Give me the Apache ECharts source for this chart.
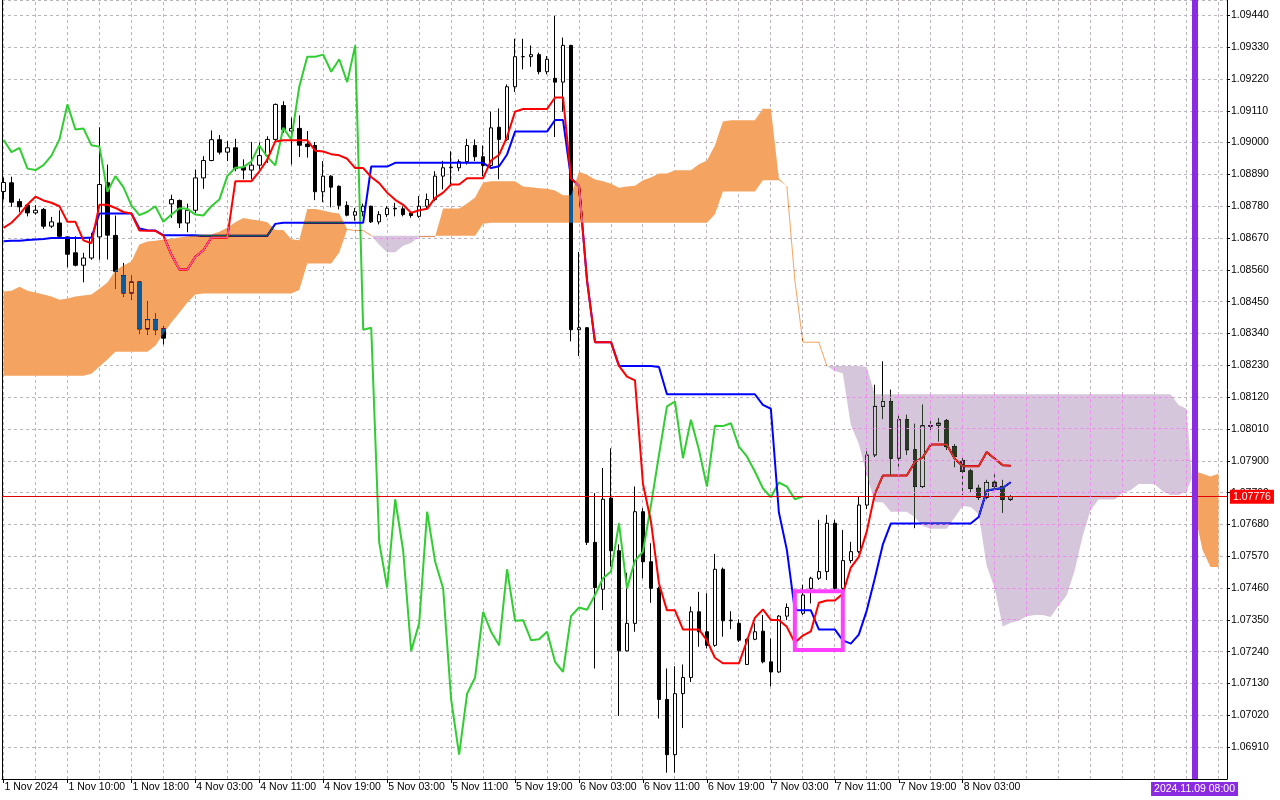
<!DOCTYPE html>
<html lang="en">
<head>
<meta charset="UTF-8">
<title>EURUSD H1 Ichimoku</title>
<style>
  html, body { margin: 0; padding: 0; background: #ffffff; }
  #chart { width: 1280px; height: 800px; }
</style>
</head>
<body>
<div id="chart"></div>
<script src="https://cdn.jsdelivr.net/npm/echarts@6/dist/echarts.min.js"></script>
<script>
// time axis labels, one every 8 hourly bars starting at bar 0
var timeLabels = ['1 Nov 2024', '1 Nov 10:00', '1 Nov 18:00', '4 Nov 03:00', '4 Nov 11:00', '4 Nov 19:00',
    '5 Nov 03:00', '5 Nov 11:00', '5 Nov 19:00', '6 Nov 03:00', '6 Nov 11:00', '6 Nov 19:00',
    '7 Nov 03:00', '7 Nov 11:00', '7 Nov 19:00', '8 Nov 03:00'];

var opens = [1.08831,1.08861,1.08796,1.08784,1.08757,1.08769,1.08711,1.08722,1.08674,1.08619,
    1.08576,1.08601,1.08674,1.08861,1.08679,1.08540,1.08480,1.08518,1.08356,1.08388,
    1.08356,1.08788,1.08800,1.08722,1.08766,1.08878,1.08938,1.09010,1.08967,1.08982,
    1.08915,1.08905,1.08922,1.08955,1.09011,1.09128,1.09040,1.09049,1.08995,1.08990,
    1.08830,1.08884,1.08849,1.08783,1.08749,1.08761,1.08780,1.08726,1.08751,1.08773,
    1.08771,1.08757,1.08745,1.08780,1.08803,1.08884,1.08913,1.08913,1.08934,1.08990,
    1.08951,1.08921,1.09053,1.09011,1.09193,1.09297,1.09297,1.09304,1.09245,1.09222,
    1.09209,1.09336,1.08353,1.08360,1.07618,1.07456,1.07771,1.07589,1.07243,1.07338,
    1.07724,1.07551,1.07459,1.07075,1.06884,1.07095,1.07151,1.07378,1.07309,1.07262,
    1.07525,1.07347,1.07338,1.07196,1.07283,1.07311,1.07205,1.07170,1.07363,1.07393,
    1.07373,1.07459,1.07494,1.07517,1.07684,1.07459,1.07555,1.07586,1.07747,1.07920,
    1.08088,1.08105,1.07909,1.08042,1.07938,1.07811,1.08021,1.08023,1.08038,1.07949,
    1.07901,1.07865,1.07805,1.07774,1.07826,1.07811,1.07767];

var highs = [1.08879,1.08882,1.08806,1.08786,1.08784,1.08774,1.08743,1.08766,1.08676,1.08676,
    1.08619,1.08688,1.09053,1.08924,1.08748,1.08584,1.08540,1.08520,1.08451,1.08411,
    1.08365,1.08820,1.08803,1.08789,1.08907,1.08953,1.09042,1.09026,1.09005,1.09013,
    1.08942,1.09002,1.09000,1.09022,1.09135,1.09143,1.09086,1.09094,1.09040,1.09002,
    1.08936,1.08887,1.08852,1.08797,1.08774,1.08789,1.08782,1.08763,1.08780,1.08792,
    1.08780,1.08763,1.08815,1.08824,1.08901,1.08937,1.08970,1.08942,1.09013,1.09011,
    1.08990,1.09107,1.09118,1.09201,1.09359,1.09359,1.09336,1.09311,1.09299,1.09438,
    1.09363,1.09338,1.08622,1.08362,1.07788,1.07875,1.07943,1.07611,1.07513,1.07811,
    1.07736,1.07615,1.07465,1.07182,1.07190,1.07196,1.07396,1.07447,1.07442,1.07578,
    1.07531,1.07380,1.07352,1.07286,1.07338,1.07367,1.07286,1.07367,1.07407,1.07420,
    1.07471,1.07499,1.07696,1.07713,1.07696,1.07661,1.07620,1.07776,1.07944,1.08163,
    1.08244,1.08146,1.08065,1.08059,1.08028,1.08094,1.08036,1.08048,1.08044,1.07958,
    1.07915,1.07872,1.07817,1.07834,1.07859,1.07834,1.07782];

var lows = [1.08803,1.08778,1.08759,1.08745,1.08751,1.08702,1.08705,1.08674,1.08569,1.08572,
    1.08517,1.08595,1.08595,1.08596,1.08494,1.08467,1.08457,1.08338,1.08336,1.08336,
    1.08302,1.08740,1.08705,1.08690,1.08757,1.08840,1.08936,1.08959,1.08936,1.08901,
    1.08873,1.08873,1.08907,1.08930,1.09005,1.09034,1.08924,1.08950,1.08948,1.08801,
    1.08794,1.08776,1.08769,1.08745,1.08730,1.08745,1.08722,1.08717,1.08743,1.08745,
    1.08745,1.08740,1.08740,1.08769,1.08797,1.08838,1.08855,1.08901,1.08924,1.08936,
    1.08884,1.08913,1.08873,1.09005,1.09175,1.09253,1.09262,1.09236,1.09236,1.09019,
    1.09107,1.08313,1.08262,1.07609,1.07182,1.07384,1.07534,1.07018,1.07241,1.07309,
    1.07494,1.07409,1.07009,1.06822,1.06822,1.06976,1.07135,1.07257,1.07251,1.07257,
    1.07292,1.07318,1.07274,1.07194,1.07280,1.07200,1.07121,1.07167,1.07349,1.07360,
    1.07367,1.07407,1.07488,1.07488,1.07453,1.07453,1.07546,1.07580,1.07733,1.07914,
    1.08044,1.07851,1.07869,1.07920,1.07667,1.07806,1.08007,1.07967,1.07938,1.07878,
    1.07782,1.07790,1.07765,1.07767,1.07802,1.07721,1.07762];

var closes = [1.08862,1.08794,1.08778,1.08757,1.08766,1.08711,1.08726,1.08676,1.08614,1.08576,
    1.08601,1.08671,1.08855,1.08680,1.08555,1.08480,1.08518,1.08356,1.08388,1.08353,
    1.08324,1.08803,1.08722,1.08766,1.08878,1.08938,1.09010,1.08967,1.08982,1.08910,
    1.08905,1.08922,1.08955,1.09011,1.09132,1.09045,1.09049,1.08991,1.08986,1.08830,
    1.08884,1.08846,1.08783,1.08749,1.08761,1.08780,1.08726,1.08751,1.08773,1.08771,
    1.08751,1.08748,1.08780,1.08803,1.08884,1.08913,1.08915,1.08934,1.08990,1.08951,
    1.08921,1.09051,1.09011,1.09193,1.09297,1.09297,1.09304,1.09245,1.09288,1.09209,
    1.09336,1.08353,1.08360,1.07618,1.07462,1.07767,1.07589,1.07243,1.07338,1.07724,
    1.07551,1.07459,1.07075,1.06884,1.07095,1.07151,1.07378,1.07309,1.07262,1.07525,
    1.07347,1.07349,1.07280,1.07283,1.07309,1.07205,1.07170,1.07363,1.07393,1.07385,
    1.07436,1.07494,1.07517,1.07684,1.07459,1.07555,1.07586,1.07747,1.07920,1.08088,
    1.08105,1.07909,1.08042,1.07938,1.07811,1.08021,1.08020,1.08030,1.07949,1.07915,
    1.07863,1.07805,1.07774,1.07825,1.07811,1.07767,1.07776];

// Tenkan-sen (red)
var tenkan = [1.08705,1.08723,1.08751,1.08786,1.08813,1.08800,1.08792,1.08780,1.08726,1.08726,
    1.08662,1.08652,1.08785,1.08785,1.08774,1.08760,1.08755,1.08696,1.08695,1.08695,
    1.08678,1.08613,1.08561,1.08561,1.08605,1.08628,1.08672,1.08672,1.08672,1.08866,
    1.08866,1.08866,1.08900,1.08941,1.09004,1.09008,1.09008,1.09008,1.09008,1.08972,
    1.08969,1.08960,1.08956,1.08944,1.08912,1.08912,1.08881,1.08860,1.08827,1.08802,
    1.08785,1.08757,1.08766,1.08771,1.08809,1.08827,1.08855,1.08855,1.08877,1.08877,
    1.08877,1.08938,1.08958,1.09020,1.09107,1.09116,1.09116,1.09116,1.09116,1.09156,
    1.09156,1.08876,1.08850,1.08524,1.08310,1.08310,1.08310,1.08228,1.08191,1.08178,
    1.07820,1.07690,1.07476,1.07383,1.07383,1.07317,1.07317,1.07317,1.07279,1.07219,
    1.07200,1.07200,1.07200,1.07277,1.07357,1.07386,1.07350,1.07350,1.07326,1.07271,
    1.07296,1.07310,1.07409,1.07417,1.07417,1.07440,1.07531,1.07568,1.07656,1.07785,
    1.07849,1.07849,1.07849,1.07849,1.07895,1.07912,1.07956,1.07956,1.07956,1.07907,
    1.07881,1.07881,1.07881,1.07930,1.07907,1.07885,1.07883];

// Kijun-sen (blue)
var kijun = [1.08659,1.08661,1.08661,1.08663,1.08665,1.08667,1.08670,1.08670,1.08670,1.08670,
    1.08670,1.08672,1.08755,1.08755,1.08755,1.08755,1.08755,1.08703,1.08697,1.08696,
    1.08680,1.08680,1.08680,1.08680,1.08680,1.08678,1.08678,1.08678,1.08678,1.08678,
    1.08678,1.08678,1.08678,1.08678,1.08719,1.08723,1.08723,1.08723,1.08723,1.08723,
    1.08723,1.08723,1.08723,1.08723,1.08723,1.08723,1.08917,1.08917,1.08917,1.08930,
    1.08930,1.08930,1.08930,1.08930,1.08930,1.08930,1.08930,1.08930,1.08930,1.08930,
    1.08930,1.08912,1.08918,1.08959,1.09038,1.09038,1.09038,1.09038,1.09038,1.09078,
    1.09078,1.08876,1.08850,1.08524,1.08310,1.08310,1.08310,1.08228,1.08228,1.08228,
    1.08228,1.08228,1.08224,1.08130,1.08130,1.08130,1.08130,1.08130,1.08130,1.08130,
    1.08130,1.08130,1.08130,1.08130,1.08130,1.08093,1.08080,1.07722,1.07592,1.07383,
    1.07383,1.07383,1.07317,1.07317,1.07317,1.07279,1.07268,1.07299,1.07383,1.07493,
    1.07610,1.07683,1.07683,1.07683,1.07683,1.07683,1.07683,1.07683,1.07683,1.07683,
    1.07683,1.07683,1.07706,1.07797,1.07802,1.07806,1.07826];

// Chikou span (green), bars 0..100
var chikou = [1.09010,1.08967,1.08982,1.08910,1.08905,1.08922,1.08955,1.09011,1.09132,1.09045,
    1.09049,1.08991,1.08986,1.08830,1.08884,1.08846,1.08783,1.08749,1.08761,1.08780,
    1.08726,1.08751,1.08773,1.08771,1.08751,1.08748,1.08780,1.08803,1.08884,1.08913,
    1.08915,1.08934,1.08990,1.08951,1.08921,1.09051,1.09011,1.09193,1.09297,1.09297,
    1.09304,1.09245,1.09288,1.09209,1.09336,1.08353,1.08360,1.07618,1.07462,1.07767,
    1.07589,1.07243,1.07338,1.07724,1.07551,1.07459,1.07075,1.06884,1.07095,1.07151,
    1.07378,1.07309,1.07262,1.07525,1.07347,1.07349,1.07280,1.07283,1.07309,1.07205,
    1.07170,1.07363,1.07393,1.07385,1.07436,1.07494,1.07517,1.07684,1.07459,1.07555,
    1.07586,1.07747,1.07920,1.08088,1.08105,1.07909,1.08042,1.07938,1.07811,1.08021,
    1.08020,1.08030,1.07949,1.07915,1.07863,1.07805,1.07774,1.07825,1.07811,1.07767,
    1.07776];

// Senkou span A and B, bars 0..152 (26 bars past the last candle)
var spanA = [1.08485,1.08488,1.08502,1.08488,1.08482,1.08475,1.08468,1.08457,1.08461,1.08468,
    1.08471,1.08475,1.08495,1.08516,1.08558,1.08575,1.08589,1.08648,1.08658,1.08661,
    1.08665,1.08668,1.08672,1.08675,1.08679,1.08682,1.08682,1.08692,1.08706,1.08725,
    1.08739,1.08734,1.08731,1.08725,1.08698,1.08698,1.08666,1.08662,1.08770,1.08770,
    1.08765,1.08758,1.08755,1.08700,1.08696,1.08696,1.08679,1.08647,1.08621,1.08621,
    1.08643,1.08653,1.08675,1.08675,1.08675,1.08772,1.08772,1.08772,1.08789,1.08810,
    1.08862,1.08866,1.08866,1.08866,1.08866,1.08848,1.08846,1.08842,1.08840,1.08834,
    1.08818,1.08818,1.08899,1.08889,1.08872,1.08866,1.08858,1.08844,1.08848,1.08851,
    1.08870,1.08879,1.08893,1.08893,1.08904,1.08904,1.08904,1.08925,1.08938,1.08990,
    1.09073,1.09077,1.09077,1.09077,1.09077,1.09117,1.09117,1.08876,1.08850,1.08524,
    1.08310,1.08310,1.08310,1.08228,1.08210,1.08203,1.08024,1.07959,1.07850,1.07757,
    1.07757,1.07724,1.07724,1.07724,1.07705,1.07675,1.07665,1.07665,1.07665,1.07704,
    1.07744,1.07740,1.07715,1.07536,1.07459,1.07327,1.07340,1.07347,1.07363,1.07367,
    1.07367,1.07360,1.07400,1.07434,1.07520,1.07639,1.07730,1.07766,1.07766,1.07766,
    1.07789,1.07798,1.07820,1.07820,1.07820,1.07795,1.07782,1.07782,1.07794,1.07864,
    1.07855,1.07846,1.07855];

var spanB = [1.08194,1.08194,1.08194,1.08194,1.08194,1.08194,1.08194,1.08194,1.08194,1.08194,
    1.08194,1.08201,1.08226,1.08250,1.08277,1.08277,1.08277,1.08277,1.08277,1.08298,
    1.08340,1.08378,1.08412,1.08447,1.08475,1.08478,1.08478,1.08478,1.08478,1.08478,
    1.08478,1.08478,1.08478,1.08478,1.08478,1.08478,1.08478,1.08490,1.08582,1.08582,
    1.08582,1.08582,1.08620,1.08700,1.08696,1.08696,1.08678,1.08678,1.08678,1.08678,
    1.08678,1.08678,1.08678,1.08678,1.08678,1.08678,1.08678,1.08678,1.08678,1.08678,
    1.08719,1.08723,1.08723,1.08723,1.08723,1.08723,1.08723,1.08723,1.08723,1.08723,
    1.08723,1.08723,1.08723,1.08723,1.08723,1.08723,1.08723,1.08723,1.08723,1.08723,
    1.08723,1.08723,1.08723,1.08723,1.08723,1.08723,1.08723,1.08723,1.08723,1.08752,
    1.08831,1.08831,1.08831,1.08831,1.08831,1.08870,1.08870,1.08870,1.08850,1.08524,
    1.08310,1.08310,1.08310,1.08228,1.08228,1.08228,1.08228,1.08228,1.08224,1.08130,
    1.08130,1.08130,1.08130,1.08130,1.08130,1.08130,1.08130,1.08130,1.08130,1.08130,
    1.08130,1.08130,1.08130,1.08130,1.08130,1.08130,1.08130,1.08130,1.08130,1.08130,
    1.08130,1.08130,1.08130,1.08130,1.08130,1.08130,1.08130,1.08130,1.08130,1.08130,
    1.08130,1.08130,1.08130,1.08130,1.08130,1.08130,1.08130,1.08093,1.08080,1.07722,
    1.07592,1.07533,1.07533];

// drawn objects: highlight box (bar range, price range) and the vertical time line
var boxBars = [99, 105];
var boxPrices = [1.07449, 1.07246];
var markerBar = 149;
var markerTime = '2024.11.09 08:00';

var xMin = -0.1875, xMax = 153.0625;
var yMin = 1.068, yMax = 1.094929, yStep = 0.0011;
var gridColor = '#bdb3bd';
var kumoGridColor = '#ee88ee';
var lastClose = closes[closes.length - 1];

var labelBars = timeLabels.map(function (t, k) { return k * 8; });
var gridBars = [];
for (var g = 0; g <= 152; g += 4) gridBars.push(g);
var gridLevels = [];
for (var q = 1; yMin + q * yStep < yMax; q++) gridLevels.push(+(yMin + q * yStep).toFixed(5));

function pairs(arr) {
    return arr.map(function (v, i) { return [i, v]; });
}

var candleData = opens.map(function (o, i) { return [i, o, closes[i], lows[i], highs[i]]; });

// split the cloud into regions where A >= B (sandy) or A < B (thistle)
var cloudRegions = [];
var thinRuns = [];
(function () {
    var cur = null;
    for (var k = 0; k < spanA.length; k++) {
        var up = spanA[k] - spanB[k] >= 0;
        if (!cur) {
            cur = { up: up, a: [[k, spanA[k]]], b: [[k, spanB[k]]] };
        } else if (cur.up === up) {
            cur.a.push([k, spanA[k]]);
            cur.b.push([k, spanB[k]]);
        } else {
            var d0 = spanA[k - 1] - spanB[k - 1], d1 = spanA[k] - spanB[k];
            var t = d0 / (d0 - d1);
            var xc = k - 1 + t, yc = spanA[k - 1] + t * (spanA[k] - spanA[k - 1]);
            cur.a.push([xc, yc]);
            cur.b.push([xc, yc]);
            cloudRegions.push(cur);
            cur = { up: up, a: [[xc, yc], [k, spanA[k]]], b: [[xc, yc], [k, spanB[k]]] };
        }
    }
    cloudRegions.push(cur);
    // where both spans meet the cloud collapses to a thin line
    var run = null;
    for (k = 0; k < spanA.length; k++) {
        if (Math.abs(spanA[k] - spanB[k]) < 0.00003) {
            if (!run) run = [];
            run.push([k, spanA[k]]);
        } else {
            if (run && run.length > 1) thinRuns.push(run);
            run = null;
        }
    }
    if (run && run.length > 1) thinRuns.push(run);
})();

// grid pieces that fall inside the thistle part of the cloud (shown pink there)
function tRange(f0, f1, p) {
    // t in [0,1] where f0 + t*(f1-f0) <= p
    if (f1 === f0) return f0 <= p ? [0, 1] : null;
    var ts = (p - f0) / (f1 - f0);
    var r = f1 > f0 ? [0, Math.min(1, ts)] : [Math.max(0, ts), 1];
    return r[0] <= r[1] ? r : null;
}
var kumoGridV = [], kumoGridH = [];
cloudRegions.forEach(function (r) {
    if (r.up) return;
    r.a.forEach(function (pa, j) {
        var x = pa[0];
        if (Math.abs(x - Math.round(x)) < 1e-9 && Math.round(x) % 4 === 0) {
            kumoGridV.push([[x, pa[1]], [x, r.b[j][1]]]);
        }
    });
    gridLevels.forEach(function (p) {
        var cur = null;
        for (var j = 0; j < r.a.length - 1; j++) {
            var x0 = r.a[j][0], x1 = r.a[j + 1][0];
            var lo = tRange(r.a[j][1], r.a[j + 1][1], p);
            var hi = tRange(-r.b[j][1], -r.b[j + 1][1], -p);
            if (!lo || !hi) { if (cur) { kumoGridH.push(cur); cur = null; } continue; }
            var t0 = Math.max(lo[0], hi[0]), t1 = Math.min(lo[1], hi[1]);
            if (t0 > t1) { if (cur) { kumoGridH.push(cur); cur = null; } continue; }
            var xs = x0 + t0 * (x1 - x0), xe = x0 + t1 * (x1 - x0);
            if (cur && Math.abs(cur[1][0] - xs) < 1e-9) {
                cur[1][0] = xe;
            } else {
                if (cur) kumoGridH.push(cur);
                cur = [[xs, p], [xe, p]];
            }
        }
        if (cur) kumoGridH.push(cur);
    });
});

function regionPoints(r, api) {
    return r.a.concat(r.b.slice().reverse()).map(function (p) { return api.coord(p); });
}
function crisp(v) { return Math.round(v - 0.5) + 0.5; }

var chart = echarts.init(document.getElementById('chart'));

var option = {
    animation: false,
    backgroundColor: '#ffffff',
    textStyle: { fontFamily: 'Liberation Sans' },
    grid: { left: 2, right: 53, top: 0, bottom: 21, show: false, containLabel: false, outerBoundsMode: 'none' },
    xAxis: {
        type: 'value',
        min: xMin,
        max: xMax,
        axisLine: { onZero: false, lineStyle: { color: '#000000', width: 1 } },
        axisTick: { customValues: labelBars, length: 4, lineStyle: { color: '#000000' } },
        axisLabel: {
            customValues: labelBars,
            formatter: function (v) { return timeLabels[Math.round(v / 8)]; },
            align: 'left',
            padding: [0, 0, 0, 1],
            margin: 3,
            color: '#000000',
            fontSize: 10.5
        },
        splitLine: { show: false }
    },
    yAxis: [
        {
            type: 'value',
            position: 'right',
            min: yMin,
            max: yMax,
            interval: yStep,
            scale: true,
            axisLine: { show: true, onZero: false, lineStyle: { color: '#000000', width: 1 } },
            axisTick: { show: true, length: 3, lineStyle: { color: '#000000' } },
            axisLabel: {
                showMinLabel: false,
                showMaxLabel: false,
                formatter: function (v) { return v.toFixed(5); },
                margin: 4,
                color: '#000000',
                fontSize: 10.5
            },
            splitLine: { show: true, lineStyle: { color: gridColor, width: 1, type: [3, 3] } }
        },
        {
            // left frame line only
            type: 'value',
            position: 'left',
            min: yMin,
            max: yMax,
            interval: yStep,
            axisLine: { show: true, onZero: false, lineStyle: { color: '#000000', width: 1 } },
            axisTick: { show: false },
            axisLabel: { show: false },
            splitLine: { show: false }
        }
    ],
    series: [
        {
            name: 'vgrid',
            type: 'custom',
            z: 0,
            silent: true,
            data: [[0, yMin]],
            renderItem: function (params, api) {
                return {
                    type: 'group',
                    children: gridBars.map(function (b) {
                        var p0 = api.coord([b, yMin]), p1 = api.coord([b, yMax]);
                        return { type: 'line', shape: { x1: crisp(p0[0]), y1: p0[1], x2: crisp(p1[0]), y2: p1[1] },
                            style: { stroke: gridColor, lineWidth: 1, lineDash: [3, 3] } };
                    })
                };
            }
        },
        {
            name: 'cloudMask',
            type: 'custom',
            z: 1,
            silent: true,
            data: [[0, yMin]],
            renderItem: function (params, api) {
                return {
                    type: 'group',
                    children: cloudRegions.map(function (r) {
                        return { type: 'polygon', shape: { points: regionPoints(r, api) }, style: { fill: '#ffffff' } };
                    })
                };
            }
        },
        {
            name: 'Price',
            type: 'candlestick',
            z: 2,
            silent: true,
            barWidth: 4,
            data: candleData,
            itemStyle: {
                color: '#ffffff', color0: '#000000',
                borderColor: '#000000', borderColor0: '#000000', borderColorDoji: '#000000',
                borderWidth: 1
            },
            emphasis: { disabled: true }
        },
        {
            name: 'Chikou', type: 'line', z: 3, silent: true, showSymbol: false,
            data: pairs(chikou), lineStyle: { color: '#32cd32', width: 2 }, emphasis: { disabled: true }
        },
        {
            name: 'Kijun', type: 'line', z: 3, silent: true, showSymbol: false,
            data: pairs(kijun), lineStyle: { color: '#0000ff', width: 2 }, emphasis: { disabled: true }
        },
        {
            name: 'Tenkan', type: 'line', z: 3, silent: true, showSymbol: false,
            data: pairs(tenkan), lineStyle: { color: '#ff0000', width: 2 }, emphasis: { disabled: true },
            markLine: {
                silent: true,
                symbol: ['none', 'none'],
                precision: 5,
                animation: false,
                data: [
                    {
                        yAxis: lastClose,
                        lineStyle: { color: '#e00000', width: 1, type: 'solid' },
                        label: {
                            show: true, position: 'end', distance: 3,
                            formatter: lastClose.toFixed(5),
                            color: '#ffffff', backgroundColor: '#ff0000',
                            padding: [2, 3, 1, 3], fontSize: 10.5
                        }
                    },
                    {
                        xAxis: markerBar,
                        lineStyle: { color: '#8a2be2', width: 6, type: 'solid' },
                        label: {
                            show: true, position: 'start', distance: 3,
                            formatter: markerTime,
                            color: '#ffffff', backgroundColor: '#8a2be2',
                            padding: [2, 3, 1, 3], fontSize: 10.5
                        }
                    }
                ]
            }
        },
        {
            // Kumo drawn like the terminal does: inverted fill colour blended by difference
            name: 'Kumo',
            type: 'custom',
            z: 4,
            silent: true,
            blendMode: 'difference',
            data: [[0, yMin]],
            renderItem: function (params, api) {
                var children = cloudRegions.map(function (r) {
                    return { type: 'polygon', shape: { points: regionPoints(r, api) },
                        style: { fill: r.up ? '#0b5b9f' : '#293923', blend: 'difference' } };
                });
                thinRuns.forEach(function (run) {
                    children.push({ type: 'polyline', shape: { points: run.map(function (p) { return api.coord(p); }) },
                        style: { stroke: '#0b5b9f', lineWidth: 1, fill: null, blend: 'difference' } });
                });
                return { type: 'group', children: children };
            }
        },
        {
            name: 'kumoGrid',
            type: 'custom',
            z: 5,
            silent: true,
            data: [[0, yMin]],
            renderItem: function (params, api) {
                var children = [];
                kumoGridV.forEach(function (s) {
                    var p0 = api.coord(s[0]), p1 = api.coord(s[1]);
                    children.push({ type: 'line', shape: { x1: crisp(p0[0]), y1: p0[1], x2: crisp(p1[0]), y2: p1[1] },
                        style: { stroke: kumoGridColor, lineWidth: 1, lineDash: [3, 3] } });
                });
                kumoGridH.forEach(function (s) {
                    var p0 = api.coord(s[0]), p1 = api.coord(s[1]);
                    children.push({ type: 'line', shape: { x1: p0[0], y1: crisp(p0[1]), x2: p1[0], y2: crisp(p1[1]) },
                        style: { stroke: kumoGridColor, lineWidth: 1, lineDash: [3, 3] } });
                });
                return { type: 'group', children: children };
            }
        },
        {
            name: 'box',
            type: 'custom',
            z: 5,
            silent: true,
            data: [[boxBars[0], boxPrices[0]]],
            renderItem: function (params, api) {
                var p0 = api.coord([boxBars[0], boxPrices[0]]);
                var p1 = api.coord([boxBars[1], boxPrices[1]]);
                return { type: 'rect', shape: { x: p0[0], y: p0[1], width: p1[0] - p0[0], height: p1[1] - p0[1] },
                    style: { fill: null, stroke: '#ff40ff', lineWidth: 4 } };
            }
        }
    ]
};

chart.setOption(option);
</script>
</body>
</html>
